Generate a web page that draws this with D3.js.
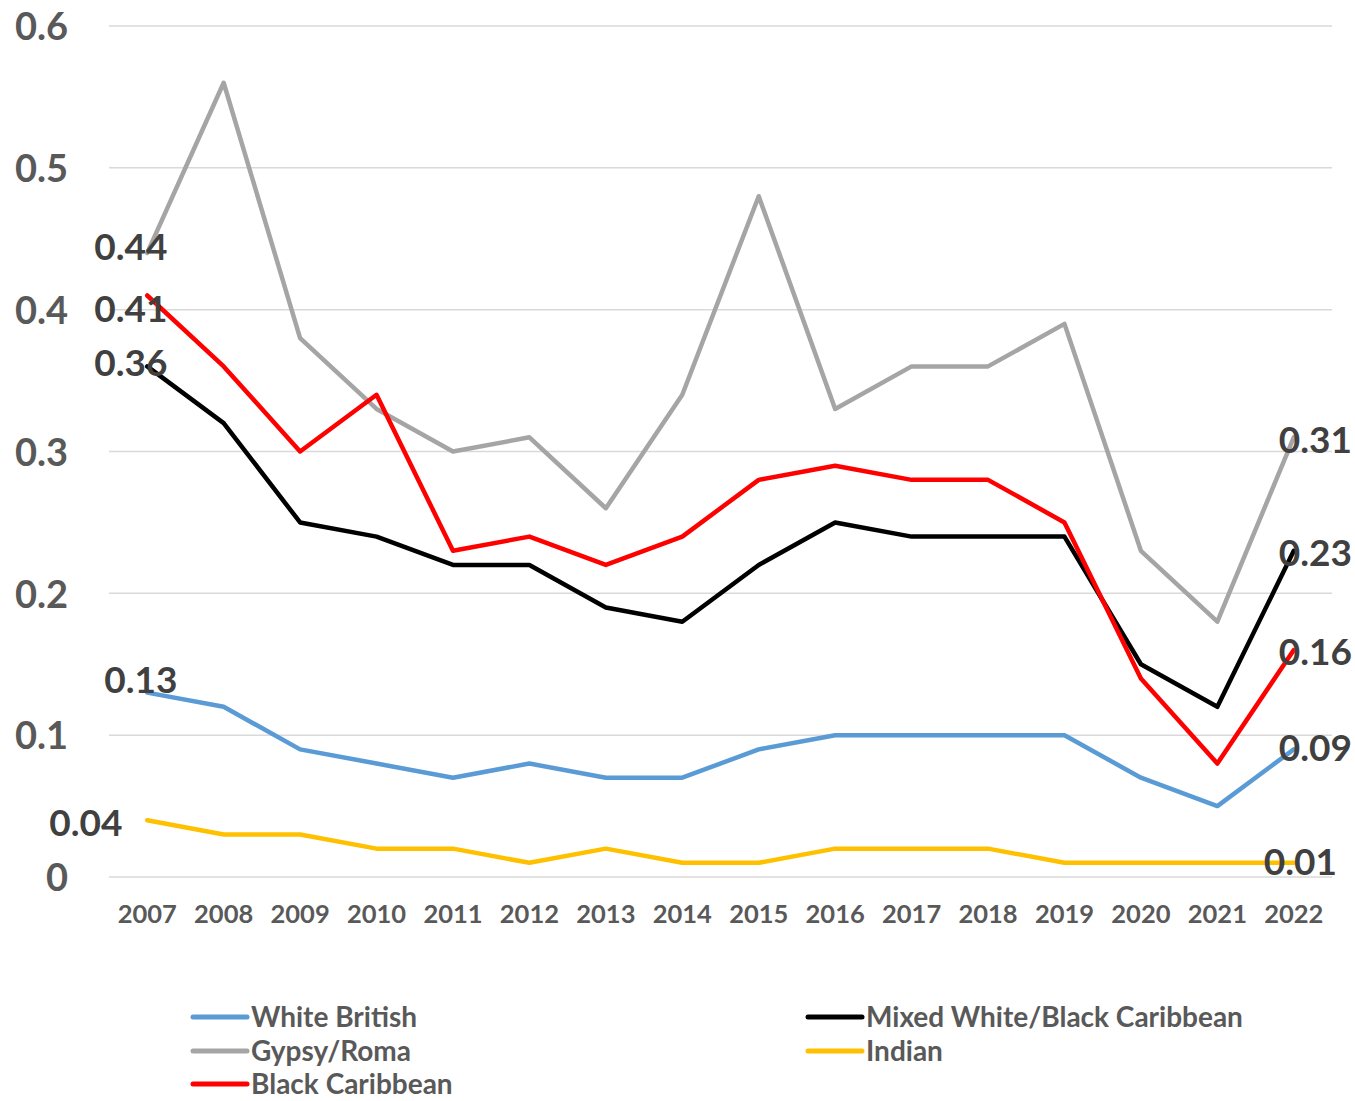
<!DOCTYPE html>
<html>
<head>
<meta charset="utf-8">
<script src="https://cdn.jsdelivr.net/npm/d3@7"></script>
<style>
  html, body { margin: 0; padding: 0; background: #fff; }
  svg text { font-family: Lato, "Open Sans", "DejaVu Sans", sans-serif; font-weight: bold; }
</style>
</head>
<body>
<svg id="chart" width="1355" height="1101"></svg>
<script>
// Years on the category axis
const years = ["2007","2008","2009","2010","2011","2012","2013","2014","2015","2016","2017","2018","2019","2020","2021","2022"];

// Series values, one array per group
const whiteBritish   = [0.13,0.12,0.09,0.08,0.07,0.08,0.07,0.07,0.09,0.10,0.10,0.10,0.10,0.07,0.05,0.09];
const mixedWhiteBC   = [0.36,0.32,0.25,0.24,0.22,0.22,0.19,0.18,0.22,0.25,0.24,0.24,0.24,0.15,0.12,0.23];
const gypsyRoma      = [0.44,0.56,0.38,0.33,0.30,0.31,0.26,0.34,0.48,0.33,0.36,0.36,0.39,0.23,0.18,0.31];
const indian         = [0.04,0.03,0.03,0.02,0.02,0.01,0.02,0.01,0.01,0.02,0.02,0.02,0.01,0.01,0.01,0.01];
const blackCaribbean = [0.41,0.36,0.30,0.34,0.23,0.24,0.22,0.24,0.28,0.29,0.28,0.28,0.25,0.14,0.08,0.16];

// Value-axis tick labels
const yTicks = [0, 0.1, 0.2, 0.3, 0.4, 0.5, 0.6];

const series = [
  { name: "White British",               values: whiteBritish,   color: "#5B9BD5" },
  { name: "Mixed White/Black Caribbean", values: mixedWhiteBC,   color: "#000000" },
  { name: "Gypsy/Roma",                  values: gypsyRoma,      color: "#A5A5A5" },
  { name: "Indian",                      values: indian,         color: "#FFC000" },
  { name: "Black Caribbean",             values: blackCaribbean, color: "#FF0000" }
];

// Label nudges for first/last point labels (pixels, relative to the point)
const labelNudge = {
  "White British":               { first: [-43, -13], last: [-15, -2] },
  "Mixed White/Black Caribbean": { first: [-53, -4],  last: [-15, 2] },
  "Gypsy/Roma":                  { first: [-53, -6],  last: [-15, 2] },
  "Indian":                      { first: [-98, 2],   last: [-30, -1] },
  "Black Caribbean":             { first: [-53, 13],  last: [-15, 2] }
};

const svg = d3.select("#chart");
const plot = { left: 109, right: 1332, top: 26, bottom: 877 };

const x = d3.scaleBand().domain(years).range([plot.left, plot.right]).padding(0);
const xc = d => x(d) + x.bandwidth() / 2;
const y = d3.scaleLinear().domain([0, 0.6]).range([plot.bottom, plot.top]);

// Horizontal gridlines
svg.append("g")
  .selectAll("line")
  .data(yTicks)
  .join("line")
  .attr("x1", plot.left).attr("x2", plot.right)
  .attr("y1", d => y(d)).attr("y2", d => y(d))
  .attr("stroke", "#D9D9D9").attr("stroke-width", 1.5);

// Value axis labels
const yAxis = d3.axisLeft(y).tickValues(yTicks).tickSize(0).tickPadding(0)
  .tickFormat(d => d === 0 ? "0" : d3.format(".1f")(d));
svg.append("g")
  .attr("transform", `translate(68,0)`)
  .call(yAxis)
  .call(g => g.select(".domain").remove())
  .call(g => g.selectAll("text")
    .attr("fill", "#595959").attr("font-size", 38).attr("dy", "0.36em")
    .style("font-family", "Lato, 'Open Sans', sans-serif").style("font-weight", "bold"));

// Category axis labels
const xAxis = d3.axisBottom(x).tickSize(0).tickPadding(0);
svg.append("g")
  .attr("transform", `translate(0,${plot.bottom})`)
  .call(xAxis)
  .call(g => g.select(".domain").remove())
  .call(g => g.selectAll("text")
    .attr("fill", "#595959").attr("font-size", 25.5).attr("y", 46).attr("dy", "0")
    .style("font-family", "Lato, 'Open Sans', sans-serif").style("font-weight", "bold"));

// Series lines
const line = d3.line().x((d, i) => xc(years[i])).y(d => y(d));
svg.append("g")
  .selectAll("path")
  .data(series)
  .join("path")
  .attr("d", s => line(s.values))
  .attr("fill", "none")
  .attr("stroke", s => s.color)
  .attr("stroke-width", 4.5)
  .attr("stroke-linejoin", "round")
  .attr("stroke-linecap", "round");

// First and last value labels
const labels = [];
series.forEach(s => {
  const n = s.values.length - 1;
  labels.push({ v: s.values[0], yr: years[0], off: labelNudge[s.name].first });
  labels.push({ v: s.values[n], yr: years[n], off: labelNudge[s.name].last });
});
svg.append("g")
  .selectAll("text")
  .data(labels)
  .join("text")
  .attr("x", d => xc(d.yr) + d.off[0])
  .attr("y", d => y(d.v) + d.off[1])
  .attr("dy", "0.36em")
  .attr("font-size", 37)
  .attr("fill", "#404040")
  .text(d => d3.format(".2f")(d.v));

// Legend: two columns, filled row by row
const legendCols = [193, 808];
const legendRows = [1017, 1051, 1084];
const legend = svg.append("g")
  .selectAll("g")
  .data(series)
  .join("g")
  .attr("transform", (d, i) => `translate(${legendCols[i % 2]},${legendRows[Math.floor(i / 2)]})`);
legend.append("line")
  .attr("x1", 0).attr("x2", 54).attr("y1", 0).attr("y2", 0)
  .attr("stroke", d => d.color).attr("stroke-width", 5).attr("stroke-linecap", "round");
legend.append("text")
  .attr("x", 58).attr("dy", "0.36em")
  .attr("font-size", 28).attr("fill", "#595959")
  .text(d => d.name);
</script>
</body>
</html>
